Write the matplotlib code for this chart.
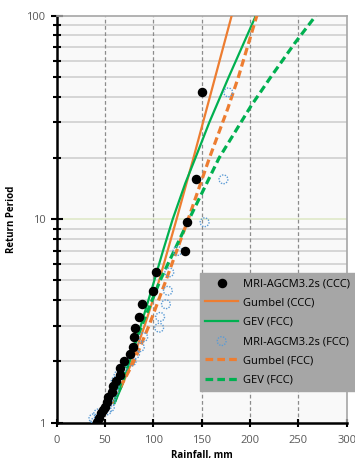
import matplotlib
matplotlib.use("Agg")
import matplotlib.pyplot as plt
from matplotlib.ticker import FixedLocator, NullFormatter

# ---------------------------------------------------------------------------
# Data
# ---------------------------------------------------------------------------
# plotted return periods (same for both samples)
RETURN_T = [42, 15.7, 9.66, 6.98, 5.48, 4.45, 3.82, 3.31, 2.93, 2.63, 2.35,
            2.17, 2.0, 1.85, 1.71, 1.6, 1.51, 1.42, 1.34, 1.27, 1.19, 1.15,
            1.11, 1.05, 1.01]
# MRI-AGCM3.2s, current climate (black dots)
CCC_RAIN = [150, 144.5, 135, 133, 103, 100, 88, 85.5, 80.5, 79.5, 78.5,
            76, 70, 66, 65, 61.5, 58.5, 57, 53, 52.5, 50, 48,
            46, 43.5, 41.5]
# MRI-AGCM3.2s, future climate (open circles)
FCC_RAIN = [177.5, 172.5, 153, 125, 116.5, 115, 113, 107, 106, 89.5, 86,
            81, 77.5, 68, 64, 61, 60, 59, 57, 56, 55, 52,
            43, 38, 40]

# fitted curves
GUM_CCC_T = [1.25, 1.5, 2, 3, 5, 10, 20, 50, 100]
GUM_CCC_X = [58, 67, 78, 91, 106, 124, 141.5, 164, 181]
GEV_CCC_T = [1.25, 1.5, 2, 3, 5, 7, 10, 15, 20, 30, 50, 100]
GEV_CCC_X = [60, 67, 75.5, 87, 101, 110, 120, 133, 143.5, 158, 178, 206]
GUM_FCC_T = [1.5, 2, 3, 5, 10, 20, 35, 50, 100]
GUM_FCC_X = [66, 80, 95.5, 113, 136, 158, 177, 188, 207]
GEV_FCC_T = [1.27, 1.5, 2, 3, 5, 10, 20, 36, 50, 73, 100]
GEV_FCC_X = [60, 65, 74, 88, 107, 137, 168, 201, 221.5, 246, 268]

X_TICKS = [0, 50, 100, 150, 200, 250, 300]
Y_MINOR = [2, 3, 4, 5, 6, 7, 8, 9, 20, 30, 40, 50, 60, 70, 80, 90]

ORANGE = "#ED7D31"
GREEN = "#00B050"
BLUE = "#5B9BD5"
DASH = (0, (2.4, 1.3))

plt.rcParams["font.family"] = ["Open Sans", "DejaVu Sans"]

fig = plt.figure(figsize=(3.55, 4.58), dpi=100)
ax = fig.add_axes([0.1597, 0.0771, 0.8169, 0.8886])
ax.set_facecolor("#f9f9f9")

ax.set_xlim(0, 300)
ax.set_yscale("log")
ax.set_ylim(1, 100)

# grid
ax.yaxis.set_minor_locator(FixedLocator(Y_MINOR))
ax.yaxis.set_minor_formatter(NullFormatter())
for t in Y_MINOR:
    ax.axhline(t, color="#cccccc", lw=1.1, zorder=0)
ax.axhline(10, color="#dde8c4", lw=1.1, zorder=0)
for x in X_TICKS[1:-1]:
    ax.axvline(x, color="#8c8c8c", lw=0.9, ls=(0, (3, 2)), zorder=0)

# fitted curves
gum_ccc, = ax.plot(GUM_CCC_X, GUM_CCC_T, color=ORANGE, lw=1.6, zorder=3)
gev_ccc, = ax.plot(GEV_CCC_X, GEV_CCC_T, color=GREEN, lw=1.6, zorder=3)
gum_fcc, = ax.plot(GUM_FCC_X, GUM_FCC_T, color=ORANGE, lw=2.3, ls=DASH, zorder=3)
gev_fcc, = ax.plot(GEV_FCC_X, GEV_FCC_T, color=GREEN, lw=2.3, ls=DASH, zorder=3)

# sample points
ccc = ax.scatter(CCC_RAIN, RETURN_T, s=34, color="black", zorder=5)
fcc = ax.scatter(FCC_RAIN, RETURN_T, s=40, facecolors="none", edgecolors=BLUE,
                 linewidths=1.0, linestyle=(0, (1, 1)), zorder=4)

# axes styling
ax.set_xticks(X_TICKS)
ax.set_yticks([1, 10, 100])
ax.set_yticklabels(["1", "10", "100"])
ax.tick_params(axis="both", which="both", colors="black", labelcolor="#595959",
               labelsize=8, direction="inout", width=1.5)
ax.tick_params(axis="y", which="major", length=8, pad=4)
ax.tick_params(axis="y", which="minor", length=6)
ax.tick_params(axis="x", which="major", length=6, pad=6)
for side in ("left", "bottom"):
    ax.spines[side].set_color("black")
    ax.spines[side].set_linewidth(1.8)
for side in ("top", "right"):
    ax.spines[side].set_color("#a6a6a6")
    ax.spines[side].set_linewidth(1.2)

ax.set_ylabel("Return Period", fontsize=7, fontweight="bold", labelpad=7)
ax.set_xlabel("Rainfall, mm", fontsize=7, fontweight="bold", labelpad=3)

labels = ["MRI-AGCM3.2s (CCC)", "Gumbel (CCC)", "GEV (FCC)",
          "MRI-AGCM3.2s (FCC)", "Gumbel (FCC)", "GEV (FCC)"]
handles = [ccc, gum_ccc, gev_ccc, fcc, gum_fcc, gev_fcc]
leg = fig.legend(handles, labels, loc="upper left",
                 bbox_to_anchor=(200 / 355, 1 - 273 / 458),
                 fontsize=8, frameon=True, fancybox=False,
                 handlelength=3.0, handletextpad=0.4, labelspacing=0.75,
                 borderpad=0.45, borderaxespad=0)
leg.get_frame().set_facecolor("#a6a6a6")
leg.get_frame().set_edgecolor("#a6a6a6")
leg.get_frame().set_alpha(1)
leg.set_zorder(10)

fig.savefig("out.png", dpi=100)
